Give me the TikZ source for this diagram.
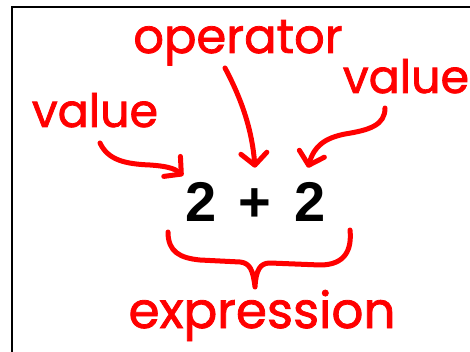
\documentclass[tikz,border=0pt]{standalone}
\usepackage{fontspec}
\setmainfont{Poppins}[FakeBold=1.6]
\newfontfamily\numfont{Liberation Sans}
\usepackage{xcolor}
\definecolor{exprred}{HTML}{FF0000}
\usepackage{tikz}
\usetikzlibrary{arrows.meta,positioning,calc}
\tikzset{
  exprlabel/.style={text=exprred,inner sep=0pt,anchor=base,font=\fontsize{46}{48}\selectfont},
  exprnum/.style={inner sep=0pt,anchor=base,font=\numfont\bfseries\fontsize{56}{58}\selectfont},
  exprflow/.style={draw=exprred,line width=5pt,line cap=round,line join=round,-{Straight Barb[length=12pt,width=26pt,line cap=round,line join=round]}},
  exprbrace/.style={draw=exprred,line width=5pt,line cap=round,line join=round},
}
\begin{document}
\begin{tikzpicture}[x=1pt,y=-1pt]
\useasboundingbox (0,0) rectangle (470,352);
\draw[line width=1.3pt] (12,352) -- (12,7) -- (470,7);
% labels
\node[exprlabel,font=\fontsize{48}{50}\selectfont] (op) at (238,53) {operator};
\node[exprlabel] (vall) at (95,127) {value};
\node[exprlabel] (valr) at (406,93) {value};
\node[exprlabel,font=\fontsize{50}{52}\selectfont] (ex) at (262,328) {expression};
% the sum
\node[exprnum] (lhs) at (201,222) {2};
\node[exprnum] (plus) at (255,222) {+};
\node[exprnum] (rhs) at (310,222) {2};
% arrows
\coordinate (vall-t) at (100,143);
\coordinate (op-t) at (225,68);
\coordinate (valr-t) at (385,108);
\draw[exprflow] (vall-t) .. controls (108,160) and (125,164) .. (150,165)
  .. controls (165,166) and (174,168) .. ([xshift=-2pt,yshift=7pt]lhs.north west);
\draw[exprflow] (op-t) .. controls (242,100) and (252,130) .. ([yshift=15pt]plus |- lhs.north);
\draw[exprflow] (valr-t) .. controls (385,125) and (370,130) .. (345,134)
  .. controls (325,138) and (314,146) .. ([xshift=-2pt,yshift=15pt]rhs.north);
% brace
\draw[exprbrace] (168,232) .. controls (168,252) and (180,258) .. (200,260) -- (240,262)
  .. controls (250,263) and (253,270) .. (255,287)
  .. controls (256,270) and (260,263) .. (270,263) -- (320,265)
  .. controls (345,265) and (352,250) .. (350,230);
\end{tikzpicture}
\end{document}
